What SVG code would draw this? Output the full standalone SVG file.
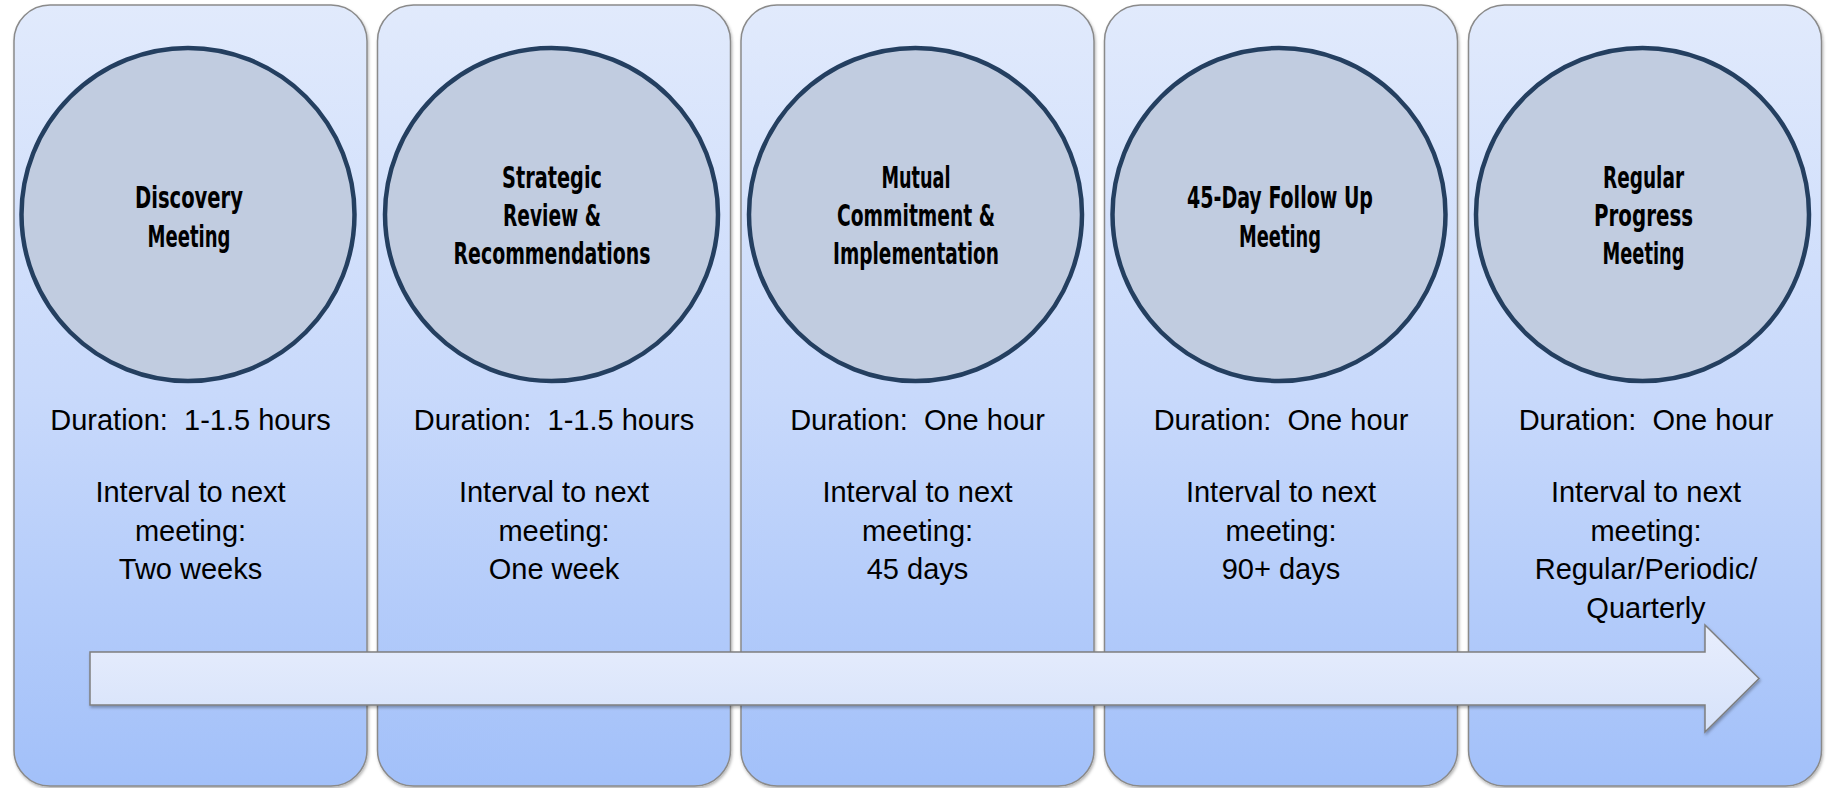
<svg xmlns="http://www.w3.org/2000/svg" width="1827" height="788" viewBox="0 0 1827 788">
  <defs>
    <linearGradient id="panelGrad" x1="0" y1="0" x2="0" y2="1">
      <stop offset="0" stop-color="#e1eafc"/>
      <stop offset="0.5" stop-color="#c8d9fb"/>
      <stop offset="1" stop-color="#a2c0f9"/>
    </linearGradient>
    <linearGradient id="arrowGrad" x1="0" y1="0" x2="0" y2="1">
      <stop offset="0" stop-color="#e8eefd"/>
      <stop offset="1" stop-color="#d6e2fa"/>
    </linearGradient>
    <filter id="shadow" x="-5%" y="-5%" width="110%" height="110%">
      <feDropShadow dx="1" dy="2" stdDeviation="1.5" flood-color="#000" flood-opacity="0.3"/>
    </filter>
    <style>
      .panel { fill: url(#panelGrad); stroke: #8a8a8a; stroke-width: 1.5; filter: url(#shadow); }
      .circ { fill: #c1cce0; stroke: #243f60; stroke-width: 4.5; }
      .title { font-family: "DejaVu Sans Condensed", "DejaVu Sans", sans-serif; font-weight: bold; font-size: 30px; fill: #000; text-anchor: middle; }
      .body { font-family: "Liberation Sans", Arial, sans-serif; font-size: 29px; fill: #000; text-anchor: middle; }
      .arrow { fill: url(#arrowGrad); stroke: #7f7f7f; stroke-width: 1.5; filter: url(#shadow); }
    </style>
  </defs>

  <g id="node-discovery">
    <rect class="panel" x="14" y="5" width="353" height="781" rx="36" ry="36"/>
    <circle class="circ" cx="188" cy="214.5" r="166.5"/>
    <text class="title" x="189" y="208" textLength="108" lengthAdjust="spacingAndGlyphs">Discovery</text>
    <text class="title" x="189" y="247" textLength="83" lengthAdjust="spacingAndGlyphs">Meeting</text>
    <text class="body" x="190.5" y="430" xml:space="preserve">Duration:  1-1.5 hours</text>
    <text class="body" x="190.5" y="502">Interval to next</text>
    <text class="body" x="190.5" y="540.5">meeting:</text>
    <text class="body" x="190.5" y="579">Two weeks</text>
  </g>

  <g id="node-strategic">
    <rect class="panel" x="377.5" y="5" width="353" height="781" rx="36" ry="36"/>
    <circle class="circ" cx="551.5" cy="214.5" r="166.5"/>
    <text class="title" x="552" y="188" textLength="100" lengthAdjust="spacingAndGlyphs">Strategic</text>
    <text class="title" x="552" y="226" textLength="98" lengthAdjust="spacingAndGlyphs">Review &amp;</text>
    <text class="title" x="552" y="264" textLength="197" lengthAdjust="spacingAndGlyphs">Recommendations</text>
    <text class="body" x="554" y="430" xml:space="preserve">Duration:  1-1.5 hours</text>
    <text class="body" x="554" y="502">Interval to next</text>
    <text class="body" x="554" y="540.5">meeting:</text>
    <text class="body" x="554" y="579">One week</text>
  </g>

  <g id="node-mutual">
    <rect class="panel" x="741" y="5" width="353" height="781" rx="36" ry="36"/>
    <circle class="circ" cx="915.5" cy="214.5" r="166.5"/>
    <text class="title" x="916" y="188" textLength="69" lengthAdjust="spacingAndGlyphs">Mutual</text>
    <text class="title" x="916" y="226" textLength="158" lengthAdjust="spacingAndGlyphs">Commitment &amp;</text>
    <text class="title" x="916" y="264" textLength="166" lengthAdjust="spacingAndGlyphs">Implementation</text>
    <text class="body" x="917.5" y="430" xml:space="preserve">Duration:  One hour</text>
    <text class="body" x="917.5" y="502">Interval to next</text>
    <text class="body" x="917.5" y="540.5">meeting:</text>
    <text class="body" x="917.5" y="579">45 days</text>
  </g>

  <g id="node-followup">
    <rect class="panel" x="1104.5" y="5" width="353" height="781" rx="36" ry="36"/>
    <circle class="circ" cx="1279" cy="214.5" r="166.5"/>
    <text class="title" x="1280" y="208" textLength="186" lengthAdjust="spacingAndGlyphs">45-Day Follow Up</text>
    <text class="title" x="1280" y="247" textLength="82" lengthAdjust="spacingAndGlyphs">Meeting</text>
    <text class="body" x="1281" y="430" xml:space="preserve">Duration:  One hour</text>
    <text class="body" x="1281" y="502">Interval to next</text>
    <text class="body" x="1281" y="540.5">meeting:</text>
    <text class="body" x="1281" y="579">90+ days</text>
  </g>

  <g id="node-regular">
    <rect class="panel" x="1468.5" y="5" width="353" height="781" rx="36" ry="36"/>
    <circle class="circ" cx="1642.5" cy="214.5" r="166.5"/>
    <text class="title" x="1643.5" y="188" textLength="81" lengthAdjust="spacingAndGlyphs">Regular</text>
    <text class="title" x="1643.5" y="226" textLength="99" lengthAdjust="spacingAndGlyphs">Progress</text>
    <text class="title" x="1643.5" y="264" textLength="82" lengthAdjust="spacingAndGlyphs">Meeting</text>
    <text class="body" x="1646" y="430" xml:space="preserve">Duration:  One hour</text>
    <text class="body" x="1646" y="502">Interval to next</text>
    <text class="body" x="1646" y="540.5">meeting:</text>
    <text class="body" x="1646" y="579">Regular/Periodic/</text>
    <text class="body" x="1646" y="617.5">Quarterly</text>
  </g>

  <g id="connectors">
    <path class="arrow" d="M90,652 L1705,652 L1705,625 L1759,678.5 L1705,732 L1705,705 L90,705 Z"/>
  </g>
</svg>
